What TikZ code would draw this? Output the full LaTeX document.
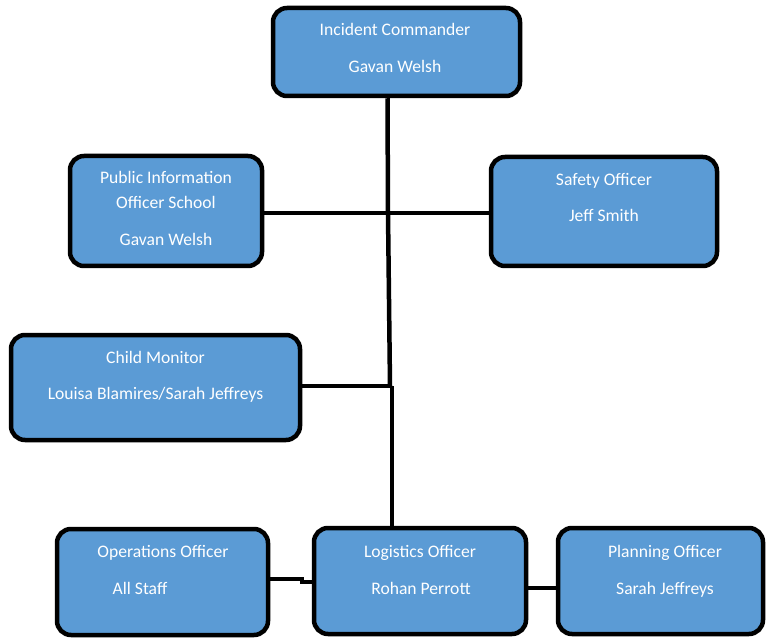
\documentclass[tikz,border=0pt]{standalone}
\usepackage{fontspec}
\setmainfont{Carlito}
\definecolor{boxblue}{HTML}{5B9BD5}
\begin{document}
\begin{tikzpicture}[x=1pt,y=-1pt,
  box/.style={draw=black,line width=4.5pt,fill=boxblue,rounded corners=14pt,inner sep=0pt},
  lbl/.style={anchor=base,text=white,inner sep=0pt,font=\fontsize{17.6}{20}\selectfont},
  conn/.style={draw=black,line width=4.5pt}]
\useasboundingbox (0,0) rectangle (766,639);
% boxes
\node[box,minimum width=247pt,minimum height=88pt] (ic) at (396.5,52) {};
\node[box,minimum width=192pt,minimum height=110pt] (pio) at (166,211) {};
\node[box,minimum width=226pt,minimum height=109pt] (saf) at (604,211.5) {};
\node[box,minimum width=289pt,minimum height=105pt] (child) at (155.5,387.5) {};
\node[box,minimum width=211pt,minimum height=106pt] (ops) at (162.5,582) {};
\node[box,minimum width=212pt,minimum height=106pt] (log) at (420,581) {};
\node[box,minimum width=205pt,minimum height=106pt] (plan) at (660.5,581) {};
% labels
\node[lbl] (ic1) at (395,36) {Incident Commander};
\node[lbl] (ic2) at (395,73) {Gavan Welsh};
\node[lbl] (pio1) at (166,184) {Public Information};
\node[lbl] (pio2) at (166,208.5) {Officer School};
\node[lbl] (pio3) at (166,246) {Gavan Welsh};
\node[lbl] (saf1) at (604,186) {Safety Officer};
\node[lbl] (saf2) at (604,221.5) {Jeff Smith};
\node[lbl] (child1) at (155.5,363) {Child Monitor};
\node[lbl] (child2) at (155.5,399) {Louisa Blamires/Sarah Jeffreys};
\node[lbl] (ops1) at (163,557) {Operations Officer};
\node[lbl] (ops2) at (140,594) {All Staff};
\node[lbl] (log1) at (420,557) {Logistics Officer};
\node[lbl] (log2) at (421,594) {Rohan Perrott};
\node[lbl] (plan1) at (665,557) {Planning Officer};
\node[lbl] (plan2) at (665,594) {Sarah Jeffreys};
% junctions
\coordinate (jA) at (388,213);
\coordinate (jB) at (390,386);
\coordinate (jC) at (392,386);
\coordinate (jD) at (302,579);
\coordinate (jE) at (302,582);
% connectors
\draw[conn] ([xshift=-9pt]ic.south) -- (jA) -- (jB);
\draw[conn] (jC) -- (jC |- log.north);
\draw[conn] (pio.east |- jA) -- (saf.west |- jA);
\draw[conn] (child.east |- jB) -- (jB);
\draw[conn] (ops.east |- jD) -- (jD) -- (jE) -- (log.west |- jE);
\draw[conn] ([yshift=-7pt]log.east) -- ([yshift=-7pt]plan.west);
\end{tikzpicture}
\end{document}
